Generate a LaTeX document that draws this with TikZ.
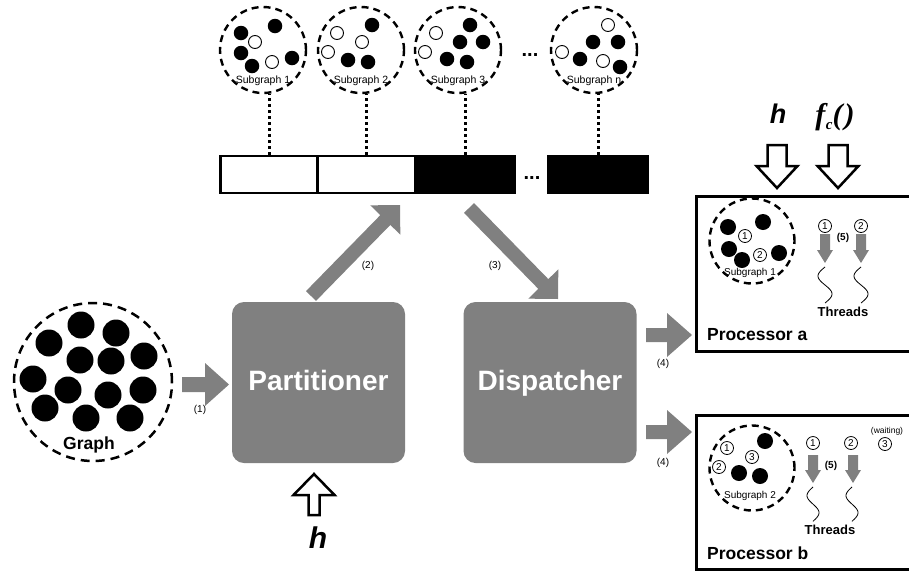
\documentclass[tikz,border=0pt]{standalone}
\usepackage{fontspec}
\setmainfont{Liberation Sans}
\newfontfamily\seriffam{Liberation Serif}
\usetikzlibrary{calc}
\definecolor{ggray}{HTML}{808080}
\newcommand{\blockarrow}[6]{%
  \coordinate (bah) at ($(#3)!#6!(#2)$);
  \path[#1] ($(#2)!#4!90:(#3)$) -- ($(bah)!#4!-90:(#2)$) -- ($(bah)!#5!-90:(#2)$) -- (#3)
    -- ($(bah)!#5!90:(#2)$) -- ($(bah)!#4!90:(#2)$) -- ($(#2)!#4!-90:(#3)$) -- cycle;}
\tikzset{
  gcircle/.style={circle, draw, line width=2.5pt, dash pattern=on 9pt off 6pt, minimum size=158pt, inner sep=0pt},
  sgcircle/.style={circle, draw, line width=2.4pt, dash pattern=on 7pt off 5pt, minimum size=86pt, inner sep=0pt},
  pcircle/.style={circle, draw, line width=2.4pt, dash pattern=on 7pt off 5pt, minimum size=85pt, inner sep=0pt},
  gdot/.style={circle, fill=black, minimum size=27pt, inner sep=0pt},
  bdot/.style={circle, fill=black, minimum size=14.5pt, inner sep=0pt},
  pdot/.style={circle, fill=black, minimum size=16pt, inner sep=0pt},
  wdot/.style={circle, draw, fill=white, line width=0.9pt, minimum size=13pt, inner sep=0pt},
  numc/.style={circle, draw, line width=0.8pt, minimum size=13pt, inner sep=0pt, font=\fontsize{10}{10}\selectfont},
  proc/.style={rectangle, rounded corners=12pt, fill=ggray, minimum width=173pt, minimum height=161pt, inner sep=0pt, text=white, text height=20pt, text depth=5pt, font=\bfseries\fontsize{28}{30}\selectfont},
  cellw/.style={rectangle, draw, fill=white, line width=2.5pt, minimum height=37pt, inner sep=0pt},
  cellb/.style={rectangle, draw, fill=black, line width=2.5pt, minimum height=37pt, inner sep=0pt},
  procbox/.style={rectangle, draw, line width=3pt, anchor=north west, inner sep=0pt},
  dotline/.style={line width=3pt, dash pattern=on 3pt off 3pt},
  garrow/.style={fill=ggray},
  openarr/.style={draw, fill=white, line width=2.5pt, line join=miter},
  small/.style={inner sep=0pt, font=\fontsize{10}{10}\selectfont},
  sglbl/.style={inner sep=0pt, font=\fontsize{10.5}{11}\selectfont},
  boldlbl/.style={inner sep=0pt, font=\bfseries\fontsize{17.5}{18}\selectfont},
  thrlbl/.style={inner sep=0pt, font=\bfseries\fontsize{13}{13}\selectfont},
  bigit/.style={inner sep=0pt, anchor=base, font=\bfseries\itshape\fontsize{30}{30}\selectfont},
  dots/.style={inner sep=0pt, font=\bfseries\fontsize{20}{20}\selectfont},
  squig/.style={line width=0.8pt}
}
\begin{document}
\begin{tikzpicture}[x=1pt,y=-1pt]
\useasboundingbox (0,0) rectangle (909,571);

% ---------- top subgraphs ----------
\node[sgcircle] (sg1) at (263,50) {};
\node[sgcircle] (sg2) at (361,50) {};
\node[sgcircle] (sg3) at (458,50) {};
\node[sgcircle] (sgn) at (594,50) {};
\foreach \p [count=\i] in {(241,33),(275,26),(241,53),(252,66),(292,58)} \node[bdot] (s1b\i) at \p {};
\foreach \p [count=\i] in {(255,42),(272,62)} \node[wdot] (s1w\i) at \p {};
\foreach \p [count=\i] in {(372,25),(348,60),(368,62)} \node[bdot] (s2b\i) at \p {};
\foreach \p [count=\i] in {(337,33),(362,42),(328,52)} \node[wdot] (s2w\i) at \p {};
\foreach \p [count=\i] in {(470,25),(460,42),(483,42),(447,59),(467,62)} \node[bdot] (s3b\i) at \p {};
\foreach \p [count=\i] in {(436,33),(425,52)} \node[wdot] (s3w\i) at \p {};
\foreach \p [count=\i] in {(593,42),(618,42),(580,59),(620,67)} \node[bdot] (snb\i) at \p {};
\foreach \p [count=\i] in {(608,25),(562,52),(603,61)} \node[wdot] (snw\i) at \p {};
\node[sglbl] (sg1t) at (263,81) {Subgraph 1};
\node[sglbl] (sg2t) at (361,81) {Subgraph 2};
\node[sglbl] (sg3t) at (458,81) {Subgraph 3};
\node[sglbl] (sgnt) at (594,81) {Subgraph n};
\node[dots] (topdots) at (530,55) {...};

% ---------- bar ----------
\node[cellw, minimum width=97pt] (c1) at (269,174.5) {};
\node[cellw, minimum width=97pt] (c2) at (366.5,174.5) {};
\node[cellb, minimum width=99pt] (c3) at (465,174.5) {};
\node[cellb, minimum width=99pt] (cn) at (598,174.5) {};
\node[dots] (bardots) at (532,178) {...};
\draw[dotline] (c1.north) -- (c1.north |- sg1.south);
\draw[dotline] (c2.north) -- (c2.north |- sg2.south);
\draw[dotline] (c3.north) -- (c3.north |- sg3.south);
\draw[dotline] (cn.north) -- (cn.north |- sgn.south);

% ---------- graph ----------
\node[gcircle] (graph) at (93,382) {};
\foreach \p [count=\i] in {(81,325),(116,333),(49,343),(80,360),(111,361),(144,356),(33,379),(68,390),(108,395),(143,390),(45,408),(86,418),(130,418)} \node[gdot] (g\i) at \p {};
\node[boldlbl, anchor=base] (graphlbl) at (89,449) {Graph};

% ---------- partitioner / dispatcher ----------
\node[proc] (part) at (318.5,382.5) {Partitioner};
\node[proc] (disp) at (550,382.5) {Dispatcher};

% arrow (1)
\coordinate (a1s) at (182,384.5);
\coordinate (a1e) at (229,384.5);
\blockarrow{garrow}{a1s}{a1e}{7.5pt}{21.5pt}{24pt}
\node[small] (l1) at (200,410) {(1)};

% arrow (2)
\coordinate (a2s) at (311,296);
\coordinate (a2e) at (400,205);
\blockarrow{garrow}{a2s}{a2e}{7pt}{21pt}{21pt}
\node[small] (l2) at (368,266) {(2)};

% arrow (3)
\coordinate (a3s) at (469,208);
\coordinate (a3e) at (558,299);
\blockarrow{garrow}{a3s}{a3e}{7pt}{21pt}{21pt}
\node[small] (l3) at (495,266) {(3)};

% arrows (4)
\coordinate (a4s) at (646,335);
\coordinate (a4e) at (692,335);
\blockarrow{garrow}{a4s}{a4e}{7pt}{22pt}{25pt}
\node[small] (l4a) at (663,364) {(4)};
\coordinate (a5s) at (646,432);
\coordinate (a5e) at (692,432);
\blockarrow{garrow}{a5s}{a5e}{7pt}{22pt}{25pt}
\node[small] (l4b) at (663,463) {(4)};

% h under partitioner
\coordinate (hbs) at (314,515);
\coordinate (hbe) at (314,474);
\blockarrow{openarr}{hbs}{hbe}{5.5pt}{20.5pt}{21pt}
\node[bigit] (hb) at (318,548) {h};

% ---------- processor a ----------
\node[procbox, minimum width=230pt, minimum height=155pt] (pa) at (695,195) {};
\coordinate (has) at (777,145);
\coordinate (hae) at (777,188);
\blockarrow{openarr}{has}{hae}{9.5pt}{20.5pt}{22pt}
\coordinate (fcs) at (838,145);
\coordinate (fce) at (838,188);
\blockarrow{openarr}{fcs}{fce}{9.5pt}{20.5pt}{22pt}
\node[bigit, font=\bfseries\itshape\fontsize{27}{27}\selectfont] (ht) at (778,123) {h};
\node[bigit] (fct) at (835,124) {\seriffam\bfseries\itshape\fontsize{30}{30}\selectfont f\kern0.5pt\raisebox{-5pt}{\fontsize{15}{15}\selectfont c}(\kern2pt)};

\node[pcircle] (pac) at (752,241) {};
\foreach \p [count=\i] in {(728,227),(763,222),(729,249),(742,260),(779,253)} \node[pdot] (pab\i) at \p {};
\node[numc] (pan1) at (745,236) {1};
\node[numc] (pan2) at (760,255) {2};
\node[sglbl, font=\fontsize{10}{10}\selectfont] (pasg) at (750,273) {Subgraph 1};

\node[numc] (pat1) at (825,226) {1};
\node[numc] (pat2) at (861,226) {2};
\coordinate (pt1s) at (825,234);
\coordinate (pt1e) at (825,263);
\blockarrow{garrow}{pt1s}{pt1e}{5pt}{8pt}{13pt}
\coordinate (pt2s) at (861,234);
\coordinate (pt2e) at (861,263);
\blockarrow{garrow}{pt2s}{pt2e}{5pt}{8pt}{13pt}
\node[small, font=\bfseries\fontsize{10}{10}\selectfont] (pa5) at (843,238) {(5)};
\draw[squig] plot[domain=0:360, samples=40, variable=\t] ({825-7*sin(\t)},{267+\t/10});
\draw[squig] plot[domain=0:360, samples=40, variable=\t] ({861-7*sin(\t)},{267+\t/10});
\node[thrlbl] (path) at (843,312) {Threads};
\node[boldlbl, anchor=west] (palbl) at (707,335) {Processor a};

% ---------- processor b ----------
\node[procbox, minimum width=230pt, minimum height=154pt] (pb) at (695,414) {};
\node[pcircle] (pbc) at (752,468) {};
\foreach \p [count=\i] in {(765,441),(739,473),(760,476)} \node[pdot] (pbb\i) at \p {};
\node[numc] (pbn1) at (727,448) {1};
\node[numc] (pbn2) at (719,467) {2};
\node[numc] (pbn3) at (752,457) {3};
\node[sglbl, font=\fontsize{10}{10}\selectfont] (pbsg) at (750,496) {Subgraph 2};

\node[numc] (pbt1) at (813,443) {1};
\node[numc] (pbt2) at (851,443) {2};
\node[small, font=\fontsize{8.5}{9}\selectfont] (pbw) at (887,431) {(waiting)};
\node[numc] (pbt3) at (885,444) {3};
\coordinate (pu1s) at (813,455);
\coordinate (pu1e) at (813,483);
\blockarrow{garrow}{pu1s}{pu1e}{5pt}{8pt}{13pt}
\coordinate (pu2s) at (853,455);
\coordinate (pu2e) at (853,483);
\blockarrow{garrow}{pu2s}{pu2e}{5pt}{8pt}{13pt}
\node[small, font=\bfseries\fontsize{10}{10}\selectfont] (pb5) at (831,466) {(5)};
\draw[squig] plot[domain=0:360, samples=40, variable=\t] ({813-6*sin(\t)},{487+\t/10.5});
\draw[squig] plot[domain=0:360, samples=40, variable=\t] ({852-6*sin(\t)},{487+\t/10.5});
\node[thrlbl] (pbth) at (830,530) {Threads};
\node[boldlbl, anchor=west] (pblbl) at (707,553) {Processor b};
\end{tikzpicture}
\end{document}
